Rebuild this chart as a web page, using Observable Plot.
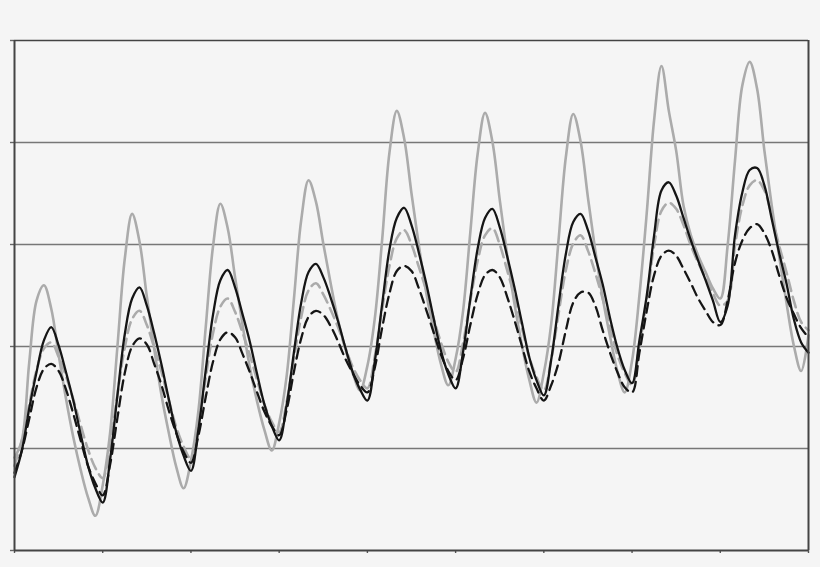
<!DOCTYPE html>
<html>
<head>
<meta charset="utf-8">
<script src="https://cdn.jsdelivr.net/npm/d3@7"></script>
<script src="https://cdn.jsdelivr.net/npm/@observablehq/plot@0.6"></script>
<style>
  html, body { margin: 0; padding: 0; background: #f5f5f5; }
  #chart svg { display: block; }
</style>
</head>
<body>
<div id="chart"></div>
<script>
// Monthly index over nine annual cycles (0..108)
const yearTicks = [0, 12, 24, 36, 48, 60, 72, 84, 96, 108];
const gridValues = [1, 2, 3, 4];

// Light grey solid series
const greySolid = [
  0.91, 1.08, 1.84, 2.45, 2.60, 2.37, 1.92, 1.49, 1.11, 0.79, 0.52, 0.34,
  0.64, 1.15, 2.00, 2.86, 3.30, 3.03, 2.49, 1.98, 1.52, 1.15, 0.82, 0.61,
  0.88, 1.36, 2.18, 2.98, 3.40, 3.16, 2.68, 2.22, 1.80, 1.46, 1.18, 0.98,
  1.25, 1.70, 2.46, 3.24, 3.63, 3.42, 3.01, 2.62, 2.26, 1.98, 1.74, 1.57,
  1.81, 2.27, 3.04, 3.90, 4.31, 4.04, 3.50, 2.99, 2.53, 2.16, 1.83, 1.62,
  1.88, 2.34, 3.12, 3.89, 4.29, 4.01, 3.44, 2.90, 2.42, 2.02, 1.68, 1.45,
  1.74, 2.22, 3.04, 3.86, 4.28, 4.01, 3.46, 2.94, 2.48, 2.10, 1.76, 1.55,
  1.86, 2.50, 3.31, 4.22, 4.75, 4.31, 3.92, 3.38, 3.09, 2.89, 2.73, 2.57,
  2.47, 2.99, 3.82, 4.56, 4.79, 4.53, 3.92, 3.38, 2.89, 2.43, 2.01, 1.76,
  2.11
];

// Black solid series
const blackSolid = [
  0.72, 0.98, 1.39, 1.75, 2.06, 2.19, 2.01, 1.75, 1.47, 1.14, 0.83, 0.61,
  0.47, 0.89, 1.52, 2.12, 2.47, 2.58, 2.40, 2.13, 1.82, 1.48, 1.16, 0.93,
  0.78, 1.18, 1.76, 2.31, 2.65, 2.75, 2.58, 2.32, 2.05, 1.73, 1.43, 1.22,
  1.08, 1.42, 1.94, 2.43, 2.73, 2.81, 2.68, 2.48, 2.25, 1.99, 1.75, 1.58,
  1.47, 1.85, 2.41, 2.95, 3.26, 3.36, 3.19, 2.92, 2.62, 2.28, 1.96, 1.73,
  1.59, 1.94, 2.47, 2.96, 3.26, 3.35, 3.17, 2.89, 2.58, 2.24, 1.90, 1.67,
  1.52, 1.87, 2.41, 2.91, 3.22, 3.30, 3.14, 2.88, 2.61, 2.28, 1.99, 1.77,
  1.64, 2.06, 2.50, 3.09, 3.53, 3.61, 3.48, 3.26, 3.04, 2.84, 2.65, 2.45,
  2.24, 2.40, 3.09, 3.51, 3.73, 3.75, 3.58, 3.25, 2.92, 2.62, 2.27, 2.04,
  1.94
];

// Light grey dashed series
const greyDashed = [
  0.83, 1.08, 1.43, 1.77, 1.98, 2.04, 1.90, 1.71, 1.48, 1.23, 0.99, 0.81,
  0.71, 1.04, 1.53, 1.99, 2.27, 2.35, 2.21, 1.99, 1.75, 1.47, 1.21, 1.02,
  0.90, 1.22, 1.69, 2.13, 2.39, 2.47, 2.34, 2.14, 1.92, 1.67, 1.43, 1.26,
  1.16, 1.45, 1.88, 2.29, 2.55, 2.62, 2.51, 2.36, 2.19, 1.99, 1.80, 1.67,
  1.59, 1.90, 2.36, 2.79, 3.06, 3.14, 3.00, 2.78, 2.55, 2.28, 2.04, 1.85,
  1.75, 2.03, 2.45, 2.84, 3.09, 3.16, 3.00, 2.75, 2.49, 2.19, 1.90, 1.70,
  1.57, 1.87, 2.32, 2.75, 3.01, 3.09, 2.94, 2.72, 2.47, 2.19, 1.92, 1.74,
  1.62, 2.01, 2.45, 2.99, 3.33, 3.41, 3.35, 3.19, 2.99, 2.82, 2.67, 2.52,
  2.40, 2.45, 2.99, 3.38, 3.58, 3.63, 3.53, 3.28, 2.99, 2.73, 2.45, 2.24,
  2.16
];

// Black dashed series
const blackDashed = [
  0.76, 0.98, 1.29, 1.60, 1.78, 1.83, 1.76, 1.58, 1.34, 1.08, 0.83, 0.66,
  0.54, 0.84, 1.30, 1.74, 2.00, 2.08, 2.02, 1.83, 1.62, 1.37, 1.15, 0.97,
  0.86, 1.12, 1.50, 1.85, 2.07, 2.14, 2.09, 1.93, 1.75, 1.55, 1.36, 1.22,
  1.13, 1.37, 1.75, 2.08, 2.29, 2.35, 2.31, 2.20, 2.05, 1.88, 1.74, 1.62,
  1.55, 1.79, 2.18, 2.52, 2.74, 2.79, 2.74, 2.57, 2.36, 2.14, 1.92, 1.76,
  1.67, 1.88, 2.21, 2.51, 2.70, 2.75, 2.68, 2.49, 2.26, 2.01, 1.76, 1.59,
  1.47, 1.62, 1.84, 2.16, 2.43, 2.53, 2.53, 2.40, 2.16, 1.94, 1.75, 1.60,
  1.55, 1.94, 2.35, 2.70, 2.89, 2.94, 2.89, 2.76, 2.62, 2.47, 2.35, 2.24,
  2.21, 2.45, 2.82, 3.04, 3.16, 3.20, 3.11, 2.94, 2.70, 2.48, 2.32, 2.18,
  2.09
];

const rows = (vals) => vals.map((v, i) => ({ t: i, v }));

const lineStyles = [
  { data: greySolid,   stroke: "#ababab", strokeWidth: 2.6, dash: null },
  { data: greyDashed,  stroke: "#ababab", strokeWidth: 2.6, dash: "11,6" },
  { data: blackDashed, stroke: "#151515", strokeWidth: 2.3, dash: "10,6" },
  { data: blackSolid,  stroke: "#151515", strokeWidth: 2.3, dash: null }
];

const chart = Plot.plot({
  width: 820,
  height: 567,
  marginLeft: 14,
  marginRight: 12,
  marginTop: 40,
  marginBottom: 17,
  style: { background: "#f5f5f5", overflow: "visible" },
  x: { domain: [0, 108], label: null },
  y: { domain: [0, 5], label: null },
  marks: [
    Plot.ruleY(gridValues, { stroke: "#777", strokeWidth: 1.4 }),
    Plot.axisY([0, 1, 2, 3, 4, 5], { tickSize: 4, tickFormat: () => "", label: null, stroke: "#666", strokeWidth: 1.4 }),
    Plot.axisX(yearTicks, { tickSize: 3, tickFormat: () => "", label: null, stroke: "#555", strokeWidth: 1.4 }),
    ...lineStyles.map(s => Plot.line(rows(s.data), {
      x: "t", y: "v",
      stroke: s.stroke,
      strokeWidth: s.strokeWidth,
      strokeDasharray: s.dash,
      curve: "catmull-rom"
    })),
    Plot.ruleY([5], { stroke: "#444", strokeWidth: 1.5 }),
    Plot.ruleY([0], { stroke: "#444", strokeWidth: 1.8 }),
    Plot.ruleX([0], { stroke: "#444", strokeWidth: 2 }),
    Plot.ruleX([108], { stroke: "#444", strokeWidth: 2 })
  ]
});

document.getElementById("chart").appendChild(chart);
</script>
</body>
</html>
